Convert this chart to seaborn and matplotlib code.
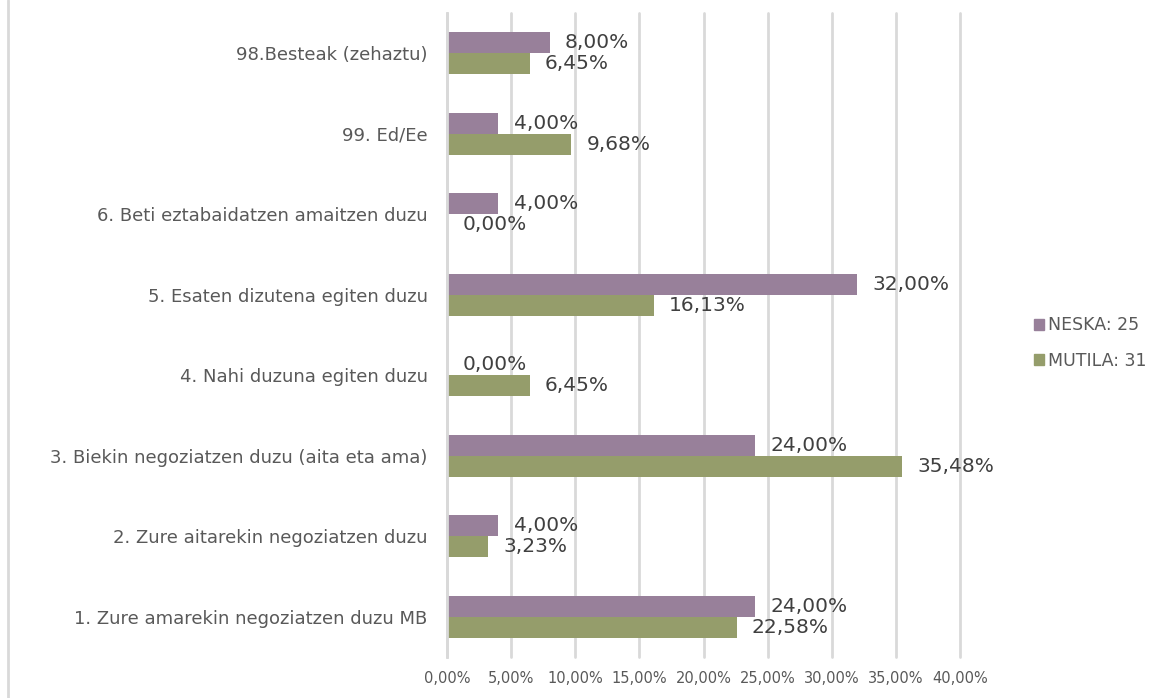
import pandas as pd
import matplotlib.pyplot as plt
import matplotlib.lines as mlines
import seaborn as sns

sns.set_theme(style="white")
plt.rcParams['font.family'] = ['DejaVu Sans']

# Datuak (goitik behera)
categories = [
    "98.Besteak (zehaztu)",
    "99. Ed/Ee",
    "6. Beti eztabaidatzen amaitzen duzu",
    "5. Esaten dizutena egiten duzu",
    "4. Nahi duzuna egiten duzu",
    "3. Biekin negoziatzen duzu (aita eta ama)",
    "2. Zure aitarekin negoziatzen duzu",
    "1. Zure amarekin negoziatzen duzu MB",
]
neska = [8.00, 4.00, 4.00, 32.00, 0.00, 24.00, 4.00, 24.00]
mutila = [6.45, 9.68, 0.00, 16.13, 6.45, 35.48, 3.23, 22.58]
series_names = ["NESKA: 25", "MUTILA: 31"]
colors = ["#98809a", "#959d6b"]
xticks = [0, 5, 10, 15, 20, 25, 30, 35, 40]

df = pd.DataFrame({
    "kategoria": categories * 2,
    "balioa": neska + mutila,
    "seriea": [series_names[0]] * len(categories) + [series_names[1]] * len(categories),
})

text_color = "#595959"
label_color = "#404040"
grid_color = "#d9d9d9"

fig = plt.figure(figsize=(11.57, 6.98), dpi=100)
ax = fig.add_axes([447 / 1157, 1 - 657 / 698, (960 - 447) / 1157, (657 - 13) / 698])

sns.barplot(data=df, x="balioa", y="kategoria", hue="seriea", order=categories,
            hue_order=series_names, palette=colors, orient="h", width=0.52,
            saturation=1, linewidth=0, ax=ax, legend=False)

# Balioen etiketak
for container, vals in zip(ax.containers, [neska, mutila]):
    for bar, v in zip(container, vals):
        cy = bar.get_y() + bar.get_height() / 2
        ax.annotate(f"{v:.2f}%".replace(".", ","), (v, cy), xytext=(11, 0),
                    textcoords="offset points", va="center", ha="left",
                    fontsize=14.5, color=label_color)

ax.set_xlim(0, 40)
ax.set_xticks(xticks)
ax.set_xticklabels([f"{t:.2f}%".replace(".", ",") for t in xticks], fontsize=10.5, color=text_color)
ax.tick_params(axis="y", labelsize=13, labelcolor=text_color, length=0, pad=14)
ax.tick_params(axis="x", length=0, pad=10)
ax.set_xlabel("")
ax.set_ylabel("")
ax.xaxis.grid(True, color=grid_color, linewidth=2)
for gl in ax.get_xgridlines():
    gl.set_clip_on(False)
ax.set_axisbelow(True)
for s in ["top", "right", "bottom"]:
    ax.spines[s].set_visible(False)
ax.spines["left"].set_color(grid_color)
ax.spines["left"].set_linewidth(2)

# Legenda
handles = [plt.Rectangle((0, 0), 1, 1, color=c) for c in colors]
fig.legend(handles, series_names, loc="center left", bbox_to_anchor=(1018 / 1157, 1 - 343 / 698),
           frameon=False, fontsize=12.5, labelcolor=text_color, handlelength=0.6,
           handleheight=0.6, handletextpad=0.2, labelspacing=1.0)

# Ezkerreko marko lerroa
fig.add_artist(mlines.Line2D([8 / 1157, 8 / 1157], [0, 1], color=grid_color, linewidth=2))

fig.savefig("out.png", dpi=100)
